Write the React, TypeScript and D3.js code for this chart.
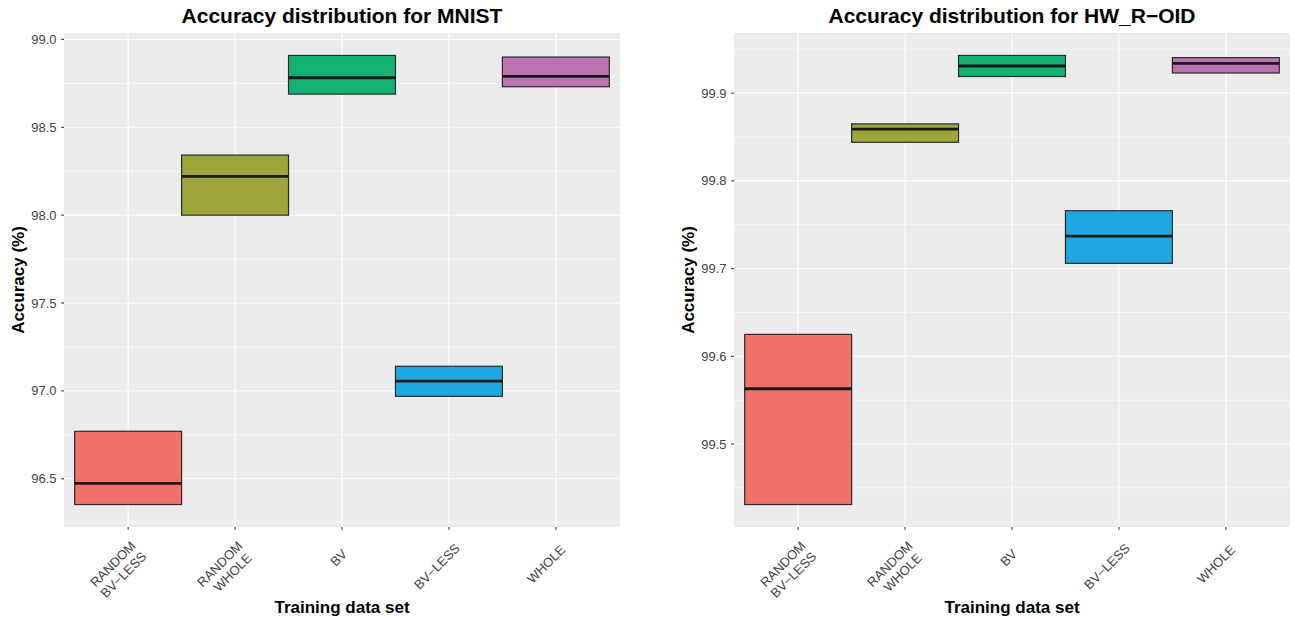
import React, { Component } from 'react';
import * as d3 from 'd3';

// categories on the x axis (same for both panels)
const categories = ['RANDOM\nBV−LESS', 'RANDOM\nWHOLE', 'BV', 'BV−LESS', 'WHOLE'];
const boxColors = ['#F1706A', '#9EA53A', '#12B372', '#1FA8DF', '#BA72B0'];

// MNIST panel: lower hinge, median, upper hinge
const mnistLower = [96.353, 98.0, 98.689, 96.969, 98.731];
const mnistMedian = [96.473, 98.221, 98.782, 97.055, 98.79];
const mnistUpper = [96.77, 98.342, 98.909, 97.14, 98.9];
const mnistTicks = [96.5, 97.0, 97.5, 98.0, 98.5, 99.0];

// HW_R-OID panel
const hwLower = [99.431, 99.844, 99.919, 99.706, 99.923];
const hwMedian = [99.563, 99.859, 99.931, 99.737, 99.934];
const hwUpper = [99.625, 99.865, 99.943, 99.766, 99.9405];
const hwTicks = [99.5, 99.6, 99.7, 99.8, 99.9];

const FONT = "'Liberation Sans', Arial, Helvetica, sans-serif";

function drawPanel(svg: any, left: number, right: number, title: string,
  lower: number[], median: number[], upper: number[], ticks: number[]) {
  const top = 33, bottom = 527;
  const g = svg.append('g');

  const lo = d3.min(lower) as number, hi = d3.max(upper) as number;
  const pad = (hi - lo) * 0.05;
  const y = d3.scaleLinear().domain([lo - pad, hi + pad]).range([bottom, top]);
  const x = d3.scalePoint<string>().domain(categories).range([left, right]).padding(0.6);
  const step = x.step();

  g.append('rect')
    .attr('x', left).attr('y', top)
    .attr('width', right - left).attr('height', bottom - top)
    .attr('fill', '#EBEBEB');

  // minor grid
  const half = (ticks[1] - ticks[0]) / 2;
  const minors = [ticks[0] - half, ...ticks.map(t => t + half)]
    .filter(v => v > y.domain()[0] && v < y.domain()[1]);
  g.selectAll('.minor').data(minors).join('line')
    .attr('x1', left).attr('x2', right)
    .attr('y1', d => y(d)).attr('y2', d => y(d))
    .attr('stroke', '#FFFFFF').attr('stroke-width', 0.6);

  // major grid
  g.selectAll('.major').data(ticks).join('line')
    .attr('x1', left).attr('x2', right)
    .attr('y1', d => y(d)).attr('y2', d => y(d))
    .attr('stroke', '#FFFFFF').attr('stroke-width', 1.1);
  g.selectAll('.vmajor').data(categories).join('line')
    .attr('x1', d => x(d)).attr('x2', d => x(d))
    .attr('y1', top).attr('y2', bottom)
    .attr('stroke', '#FFFFFF').attr('stroke-width', 1.1);

  // boxes
  categories.forEach((c, i) => {
    const cx = x(c) as number;
    g.append('rect')
      .attr('x', cx - step / 2).attr('width', step)
      .attr('y', y(upper[i])).attr('height', y(lower[i]) - y(upper[i]))
      .attr('fill', boxColors[i])
      .attr('stroke', '#2B2B2B').attr('stroke-width', 1.2);
    g.append('line')
      .attr('x1', cx - step / 2).attr('x2', cx + step / 2)
      .attr('y1', y(median[i])).attr('y2', y(median[i]))
      .attr('stroke', '#1A1A1A').attr('stroke-width', 2.8);
  });

  // y axis
  ticks.forEach(t => {
    g.append('line')
      .attr('x1', left - 2.75).attr('x2', left)
      .attr('y1', y(t)).attr('y2', y(t))
      .attr('stroke', '#333333').attr('stroke-width', 1.1);
    g.append('text')
      .attr('x', left - 7.5).attr('y', y(t) + 4.6)
      .attr('text-anchor', 'end')
      .attr('font-family', FONT).attr('font-size', 13)
      .attr('fill', '#444444')
      .text(d3.format('.1f')(t));
  });

  // x axis
  categories.forEach(c => {
    const cx = x(c) as number;
    g.append('line')
      .attr('x1', cx).attr('x2', cx)
      .attr('y1', bottom).attr('y2', bottom + 2.75)
      .attr('stroke', '#333333').attr('stroke-width', 1.1);
    const lines = c.split('\n');
    const n = lines.length;
    const lg = g.append('g')
      .attr('transform', `translate(${cx + 0.2 + 2 * (n - 1)},${bottom + 27 + 3 * (n - 1)}) rotate(-45)`);
    lines.forEach((ln, i) => {
      const t = lg.append('text')
        .attr('y', (i - (n - 1) / 2) * 15 + 4.65)
        .attr('font-family', FONT).attr('font-size', 13)
        .attr('fill', '#444444')
        .text(ln);
      const L = t.node().getComputedTextLength();
      t.attr('x', -0.8 * L);
    });
  });

  // titles
  g.append('text')
    .attr('x', (left + right) / 2).attr('y', 22.7)
    .attr('text-anchor', 'middle')
    .attr('font-family', FONT).attr('font-size', 21).attr('font-weight', 'bold')
    .attr('fill', '#000000')
    .text(title);

  g.append('text')
    .attr('transform', `translate(${left - 40},${(top + bottom) / 2}) rotate(-90)`)
    .attr('text-anchor', 'middle')
    .attr('font-family', FONT).attr('font-size', 17).attr('font-weight', 'bold')
    .attr('fill', '#000000')
    .text('Accuracy (%)');

  g.append('text')
    .attr('x', (left + right) / 2).attr('y', 613)
    .attr('text-anchor', 'middle')
    .attr('font-family', FONT).attr('font-size', 17).attr('font-weight', 'bold')
    .attr('fill', '#000000')
    .text('Training data set');
}

class App extends Component {
  svgRef = React.createRef<SVGSVGElement>();

  componentDidMount() {
    this.renderChart();
  }

  componentDidUpdate() {
    this.renderChart();
  }

  renderChart() {
    const svg = d3.select(this.svgRef.current);
    svg.selectAll('*').remove();
    svg.append('rect').attr('width', 1295).attr('height', 619).attr('fill', '#FFFFFF');
    drawPanel(svg, 64, 620, 'Accuracy distribution for MNIST', mnistLower, mnistMedian, mnistUpper, mnistTicks);
    drawPanel(svg, 734, 1290, 'Accuracy distribution for HW_R−OID', hwLower, hwMedian, hwUpper, hwTicks);
  }

  render() {
    return (
      <svg ref={this.svgRef} width={1295} height={619}
        style={{ position: 'absolute', left: 0, top: 0, display: 'block' }} />
    );
  }
}

export default App;
